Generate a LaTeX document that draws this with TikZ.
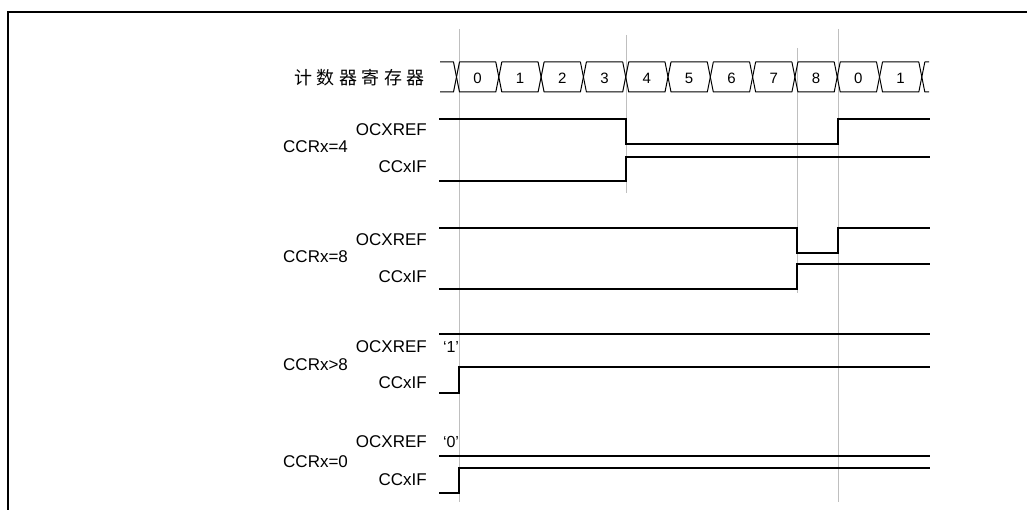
\documentclass[tikz,border=0pt]{standalone}
\usepackage{fontspec}
\setmainfont{Liberation Sans}
\newfontfamily\cjk{Noto Sans CJK SC}
\begin{document}
\begin{tikzpicture}[x=1pt,y=-1pt,
  wave/.style={line width=1.3pt,line join=miter,line cap=rect},
  bus/.style={line width=1pt,line join=round},
  guide/.style={draw=black!25,line width=0.9pt},
  sig/.style={font=\fontsize{17}{19}\selectfont,inner sep=0pt,anchor=east},
  reg/.style={font=\fontsize{17}{19}\selectfont,inner sep=0pt,anchor=west},
  digit/.style={font=\fontsize{15}{17}\selectfont,inner sep=0pt},
  lev/.style={font=\fontsize{16}{18}\selectfont,inner sep=0pt}]
\useasboundingbox (0,0) rectangle (1027,510);
\draw[line width=1.5pt] (8,510) -- (8,12) -- (1027,12);
% guide lines
\draw[guide] (459,29) -- (459,502);
\draw[guide] (626,35) -- (626,193);
\draw[guide] (797,48) -- (797,293);
\draw[guide] (838,29) -- (838,502);
% counter bus
\node[font=\cjk\fontsize{18}{20}\selectfont,inner sep=0pt,anchor=east] (cnt) at (425,78)
  {计\hspace{4.5pt}数\hspace{4.5pt}器\hspace{4.5pt}寄\hspace{4.5pt}存\hspace{4.5pt}器};
\draw[bus] (440,62) -- (453.5,62) -- (456.5,77) -- (453.5,92) -- (440,92);
\foreach \d [count=\k from 0] in {0,1,2,3,4,5,6,7,8,0,1}{
  \pgfmathsetmacro\a{456.5+42.3*\k}
  \pgfmathsetmacro\b{\a+42.3}
  \draw[bus] (\a,77) -- (\a+3,62) -- (\b-3,62) -- (\b,77) -- (\b-3,92) -- (\a+3,92) -- cycle;
  \node[digit] (n\k) at ({(\a+\b)/2},78) {\d};
}
\draw[bus] (929,62) -- (924.8,62) -- (921.8,77) -- (924.8,92) -- (929,92);
% CCRx=4
\node[reg] (r4) at (283,147) {CCRx=4};
\node[sig] (o4) at (427,130) {OCXREF};
\node[sig] (f4) at (427,167) {CCxIF};
\draw[wave] (440,119) -- (626,119) -- (626,144) -- (838,144) -- (838,119) -- (929,119);
\draw[wave] (440,181) -- (626,181) -- (626,157) -- (929,157);
% CCRx=8
\node[reg] (r8) at (283,257) {CCRx=8};
\node[sig] (o8) at (427,240) {OCXREF};
\node[sig] (f8) at (427,277) {CCxIF};
\draw[wave] (440,228) -- (797,228) -- (797,253) -- (838,253) -- (838,228) -- (929,228);
\draw[wave] (440,289) -- (797,289) -- (797,264) -- (929,264);
% CCRx>8
\node[reg] (rg) at (283,365) {CCRx>8};
\node[sig] (og) at (427,347) {OCXREF};
\node[sig] (fg) at (427,383) {CCxIF};
\node[lev] (l1) at (451,347) {‘1’};
\draw[wave] (440,334) -- (929,334);
\draw[wave] (440,393) -- (459,393) -- (459,367) -- (929,367);
% CCRx=0
\node[reg] (r0) at (283,462) {CCRx=0};
\node[sig] (o0) at (427,442) {OCXREF};
\node[sig] (f0) at (427,480) {CCxIF};
\node[lev] (l0) at (451,442) {‘0’};
\draw[wave] (440,456) -- (929,456);
\draw[wave] (440,493) -- (459,493) -- (459,468) -- (929,468);
\end{tikzpicture}
\end{document}
